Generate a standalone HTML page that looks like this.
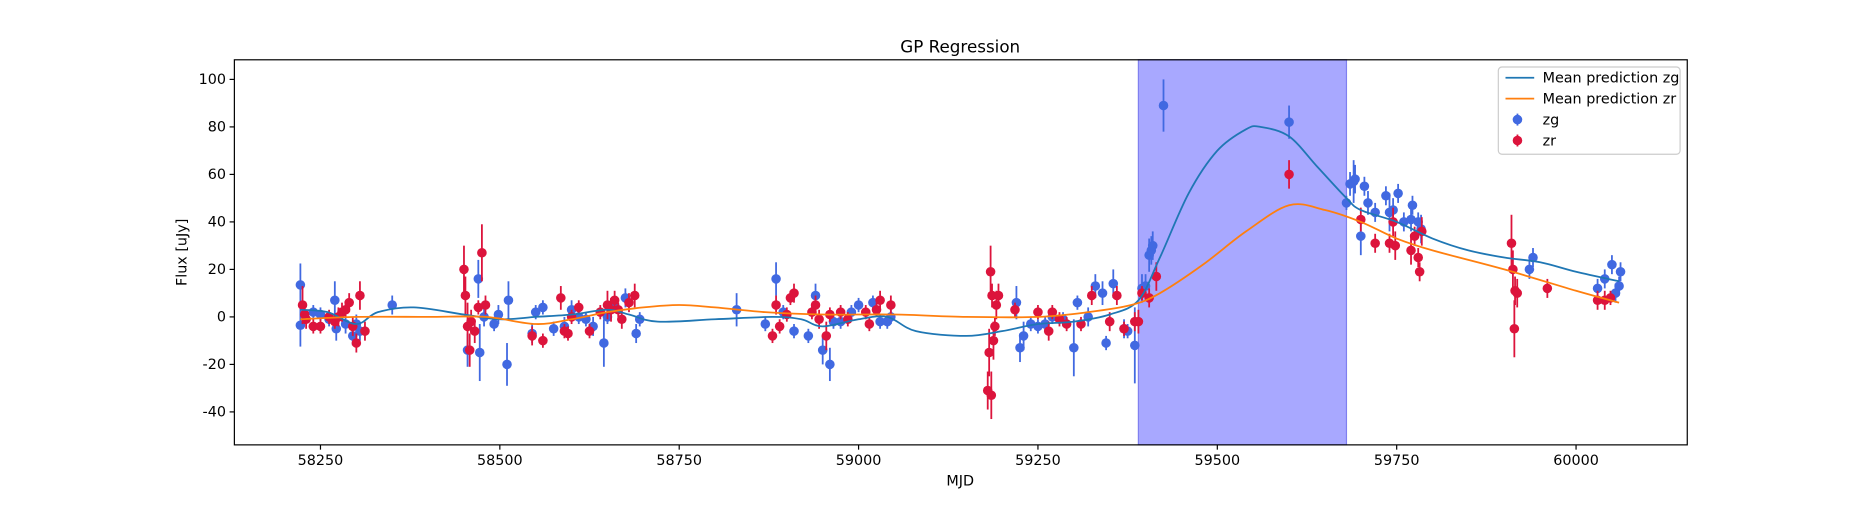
<!DOCTYPE html>
<html><head><meta charset="utf-8"><style>
html,body{margin:0;padding:0;background:#fff;}
svg text{font-family:"DejaVu Sans","Liberation Sans",sans-serif;}
</style></head><body>
<svg id="chart" width="1875" height="500" viewBox="0 0 1568 418.1" preserveAspectRatio="none" xmlns="http://www.w3.org/2000/svg">
<rect width="1568" height="418.1" fill="#fff"/>
<g id="plot"></g>
</svg>
<script>
const xTicks=[58250,58500,58750,59000,59250,59500,59750,60000];
const yTicks=[-40,-20,0,20,40,60,80,100];
const band=[59390,59680];
const zgMjd=[58222,58222,58240,58250,58262,58270,58272,58285,58295,58300,58305,58350,58455,58470,58472,58478,58492,58498,58510,58512,58545,58550,58560,58575,58590,58600,58610,58620,58630,58645,58650,58660,58675,58690,58695,58830,58870,58885,58895,58910,58930,58940,58950,58960,58965,58975,58990,59000,59020,59030,59040,59045,59220,59225,59230,59240,59250,59260,59270,59285,59300,59305,59320,59330,59340,59345,59355,59370,59375,59385,59395,59400,59405,59408,59410,59425,59600,59680,59685,59690,59692,59700,59705,59710,59720,59735,59740,59745,59752,59760,59770,59772,59780,59784,59935,59940,60030,60040,60050,60055,60060,60062];
const zgFlux=[13.5,-3.5,2,1,-1,7,-5,-3,-8,-3,-6,5,-14,16,-15,0,-3,1,-20,7,-7,2,4,-5,-4,3,0,-1,-4,-11,0,5,8,-7,-1,3,-3,16,2,-6,-8,9,-14,-20,-2,-2,2,5,6,-2,-2,0,6,-13,-8,-3,-4,-3,0,-1,-13,6,0,13,10,-11,14,-5,-6,-12,12,13,26,28,30,89,82,48,56,57,58,34,55,48,44,51,44,45,52,40,41,47,40,37,20,25,12,16,22,10,13,19];
const zgErr=[9,9,3,3,3,8,5,4,4,4,4,4,7,8,12,4,3,4,9,8,4,3,3,3,4,4,3,3,4,10,3,3,4,4,3,7,3,7,3,3,3,5,6,7,3,3,3,3,3,3,3,3,7,6,6,3,3,3,3,3,12,3,4,5,5,3,6,4,3,16,6,5,7,6,6,11,7,3,5,9,6,8,4,5,4,4,8,5,4,4,5,4,4,6,4,4,4,4,4,4,4,4];
const zrMjd=[58225,58228,58230,58240,58250,58262,58270,58275,58280,58285,58290,58295,58300,58305,58312,58450,58452,58455,58458,58460,58465,58470,58475,58480,58545,58560,58585,58590,58595,58600,58610,58625,58640,58650,58655,58660,58665,58670,58680,58688,58880,58885,58890,58900,58905,58910,58935,58940,58945,58955,58960,58975,58985,59010,59015,59025,59030,59045,59180,59182,59184,59185,59186,59188,59190,59192,59195,59218,59250,59265,59270,59280,59290,59310,59325,59350,59360,59370,59385,59390,59395,59405,59415,59600,59700,59720,59740,59745,59748,59770,59775,59780,59782,59785,59910,59912,59914,59915,59918,59960,60030,60040,60048];
const zrFlux=[5,1,-1,-4,-4,0,-2,0,2,3,6,-4,-11,9,-6,20,9,-4,-14,-2,-6,4,27,5,-8,-10,8,-6,-7,0,4,-6,2,5,3,7,3,-1,6,9,-8,5,-4,1,8,10,2,5,-1,-8,1,2,-1,2,-3,3,7,5,-31,-15,19,-33,9,-10,-4,5,9,3,2,-6,2,-1,-3,-3,9,-2,9,-5,-2,-2,10,8,17,60,41,31,31,40,30,28,34,25,19,36,31,20,-5,11,10,12,7,7,8];
const zrErr=[8,4,4,3,3,3,3,4,4,3,4,4,4,6,4,10,8,10,7,5,5,3,12,4,4,3,5,3,3,3,3,3,3,6,5,4,3,4,4,5,3,4,3,3,3,4,3,4,4,6,3,3,3,3,3,3,4,4,8,10,11,10,5,8,4,6,5,3,3,4,3,3,3,3,4,4,4,3,4,5,3,4,6,6,5,4,4,6,6,6,4,4,4,6,12,8,12,6,6,4,4,4,3];
const zgCurveX=[58222,58260,58300,58330,58380,58450,58500,58550,58600,58650,58680,58720,58800,58880,58920,58950,59000,59040,59080,59150,59200,59250,59300,59350,59390,59420,59460,59500,59540,59560,59600,59640,59680,59700,59750,59800,59850,59900,59950,60000,60060];
const zgCurveY=[3,2,-3,2,4,1,-1,0,1,3,1,-2,-1,0,-1,-4,-1,0,-6,-8,-6,-3,-2,1,7,25,52,70,79,80,76,63,50,45,40,33,28,25,23,19,15];
const zrCurveX=[58222,58300,58400,58480,58550,58600,58650,58700,58750,58800,58870,58950,59050,59150,59250,59320,59380,59420,59480,59540,59600,59650,59700,59750,59800,59900,60000,60060];
const zrCurveY=[-1,0,0,0,-3,-1,2,4,5,4,2,1,1,0,0,2,5,10,22,36,47,45,40,33,28,20,11,6];

const L=196,R=1411,T=50,B=372;
const X=v=>268+(v-58250)*0.6;
const Y=v=>265-v*1.986;
const NS="http://www.w3.org/2000/svg";
const g=document.getElementById('plot');
function mk(tag,attrs,parent){const e=document.createElementNS(NS,tag);for(const k in attrs)e.setAttribute(k,attrs[k]);(parent||g).appendChild(e);return e;}

const bandEl=mk('rect',{x:X(band[0]),y:T,width:X(band[1])-X(band[0]),height:B-T,fill:'#a8a8ff',stroke:'#7f7ff0','stroke-width':1});



function curve(xs,ys,color,name){
  const p=xs.map((x,i)=>[X(x),Y(ys[i])]);
  let d='M'+p[0][0]+','+p[0][1];
  for(let i=0;i<p.length-1;i++){
    const p0=p[Math.max(i-1,0)],p1=p[i],p2=p[i+1],p3=p[Math.min(i+2,p.length-1)];
    const c1=[p1[0]+(p2[0]-p0[0])/6,p1[1]+(p2[1]-p0[1])/6];
    const c2=[p2[0]-(p3[0]-p1[0])/6,p2[1]-(p3[1]-p1[1])/6];
    d+=` C${c1[0]},${c1[1]} ${c2[0]},${c2[1]} ${p2[0]},${p2[1]}`;
  }
  const e=mk('path',{d:d,fill:'none',stroke:color,'stroke-width':1.5});
  
  
}
function points(xs,ys,es,color,name){
  const grp=mk('g',{});
  
  
  xs.forEach((x,i)=>{
    const l=mk('line',{x1:X(x),x2:X(x),y1:Y(ys[i]-es[i]),y2:Y(ys[i]+es[i]),stroke:color,'stroke-width':1.5},grp);
    
    
    const c=mk('circle',{cx:X(x),cy:Y(ys[i]),r:4,fill:color},grp);
    
    
  });
}
points(zgMjd,zgFlux,zgErr,'#4169e1','zg-points');
points(zrMjd,zrFlux,zrErr,'#dc143c','zr-points');
curve(zgCurveX,zgCurveY,'#1f77b4','mean-prediction-zg');
curve(zrCurveX,zrCurveY,'#ff7f0e','mean-prediction-zr');

const frame=mk('rect',{x:L,y:T,width:R-L,height:B-T,fill:'none',stroke:'#000','stroke-width':1});



xTicks.forEach(t=>{
  const l=mk('line',{x1:X(t),x2:X(t),y1:B,y2:B+4,stroke:'#000'});
  
  
  const tx=mk('text',{x:X(t),y:B+17,'font-size':12,'text-anchor':'middle'});
  tx.textContent=t;
  
  
});
yTicks.forEach(t=>{
  const l=mk('line',{x1:L-4,x2:L,y1:Y(t),y2:Y(t),stroke:'#000'});
  
  
  const tx=mk('text',{x:L-7,y:Y(t)+4,'font-size':12,'text-anchor':'end'});
  tx.textContent=t;
  
  
});
function label(txt,attrs,name){const e=mk('text',attrs);e.textContent=txt;return e;}
label('GP Regression',{x:803,y:44,'font-size':14,'text-anchor':'middle'},'chart-title');
label('MJD',{x:803,y:406,'font-size':12,'text-anchor':'middle'},'x-axis-title');
label('Flux [uJy]',{x:156,y:211,'font-size':12,'text-anchor':'middle',transform:'rotate(-90 156 211)'},'y-axis-title');

const lg=mk('g',{});


mk('rect',{x:1253,y:56,width:152,height:73,rx:3,fill:'#fff','fill-opacity':0.8,stroke:'#ccc'},lg);
const items=[['Mean prediction zg','#1f77b4','line'],['Mean prediction zr','#ff7f0e','line'],['zg','#4169e1','pt'],['zr','#dc143c','pt']];
items.forEach((it,i)=>{
  const y=65+i*17.5;
  const e=mk('g',{},lg);
  
  
  if(it[2]==='line') mk('line',{x1:1259,x2:1283,y1:y,y2:y,stroke:it[1],'stroke-width':1.5},e);
  else {mk('line',{x1:1269,x2:1269,y1:y-5,y2:y+5,stroke:it[1],'stroke-width':1.5},e);mk('circle',{cx:1269,cy:y,r:4,fill:it[1]},e);}
  const t=mk('text',{x:1290,y:y+4,'font-size':12},e);t.textContent=it[0];
});
</script>
</body></html>
